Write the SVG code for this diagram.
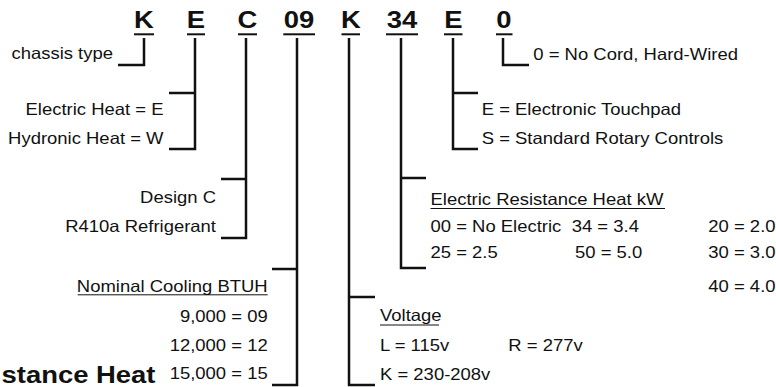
<svg xmlns="http://www.w3.org/2000/svg" width="776" height="387" viewBox="0 0 776 387">
<style>
text{font-family:"Liberation Sans",Arial,sans-serif;fill:#111}
.code{font-size:24.5px;font-weight:bold;text-anchor:middle}
.lbl{font-size:16.5px}
.end{text-anchor:end}
.big{font-size:24.5px;font-weight:bold}
.ul{stroke:#111;stroke-width:2}
.ul1{stroke:#111;stroke-width:1}
.con path{fill:none;stroke:#111;stroke-width:2.5}
</style>
<rect width="776" height="387" fill="#fff"/>
<g id="codes">
<g id="code-K1"><text class="code" transform="translate(144,28.3) scale(1.12 1)">K</text><line class="ul" x1="134" y1="34.3" x2="154" y2="34.3"/></g>
<g id="code-E1"><text class="code" transform="translate(196,28.3) scale(1.12 1)">E</text><line class="ul" x1="187" y1="34.3" x2="205" y2="34.3"/></g>
<g id="code-C"><text class="code" transform="translate(247.5,28.3) scale(1.12 1)">C</text><line class="ul" x1="238" y1="34.3" x2="257" y2="34.3"/></g>
<g id="code-09"><text class="code" transform="translate(299,28.3) scale(1.12 1)">09</text><line class="ul" x1="283.3" y1="34.3" x2="315" y2="34.3"/></g>
<g id="code-K2"><text class="code" transform="translate(350.8,28.3) scale(1.12 1)">K</text><line class="ul" x1="341.5" y1="34.3" x2="360" y2="34.3"/></g>
<g id="code-34"><text class="code" transform="translate(402,28.3) scale(1.12 1)">34</text><line class="ul" x1="386" y1="34.3" x2="418" y2="34.3"/></g>
<g id="code-E2"><text class="code" transform="translate(453.3,28.3) scale(1.12 1)">E</text><line class="ul" x1="444" y1="34.3" x2="462.5" y2="34.3"/></g>
<g id="code-0"><text class="code" transform="translate(504,28.3) scale(1.12 1)">0</text><line class="ul" x1="496" y1="34.3" x2="512.5" y2="34.3"/></g>
</g>
<g class="con" id="connectors">
<path d="M118,65 H144 V38"/>
<path d="M195,38 V149 H169 M169,93 H195"/>
<path d="M246,38 V238 H221 M221,179 H246"/>
<path d="M297,38 V385 H272 M272,269 H297"/>
<path d="M349,38 V385 H375 M375,297 H349"/>
<path d="M401,38 V268 H426 M426,178 H401"/>
<path d="M453,38 V149 H478 M478,93 H453"/>
<path d="M503,38 V65 H529"/>
</g>
<g id="chassis">
<text class="lbl end" transform="translate(113,59.3) scale(1.12 1)">chassis type</text>
</g>
<g id="heat-type">
<text class="lbl end" transform="translate(163.5,115) scale(1.12 1)">Electric Heat = E</text>
<text class="lbl end" transform="translate(163.5,143.5) scale(1.12 1)">Hydronic Heat = W</text>
</g>
<g id="design">
<text class="lbl end" transform="translate(216,202.7) scale(1.12 1)">Design C</text>
<text class="lbl end" transform="translate(216,232.3) scale(1.12 1)">R410a Refrigerant</text>
</g>
<g id="cooling">
<text class="lbl end" transform="translate(267.7,291.7) scale(1.12 1)">Nominal Cooling BTUH</text>
<line class="ul1" x1="77.7" y1="294.8" x2="267.7" y2="294.8"/>
<text class="lbl end" transform="translate(267.7,321.7) scale(1.12 1)">9,000 = 09</text>
<text class="lbl end" transform="translate(267.7,350.7) scale(1.12 1)">12,000 = 12</text>
<text class="lbl end" transform="translate(267.7,378.5) scale(1.12 1)">15,000 = 15</text>
</g>
<g id="cut-title">
<text class="big" transform="translate(1.5,383) scale(1.12 1)">stance Heat</text>
</g>
<g id="voltage">
<text class="lbl" transform="translate(380,321.3) scale(1.12 1)">Voltage</text>
<line class="ul1" x1="380" y1="325" x2="439" y2="325"/>
<text class="lbl" transform="translate(380,351) scale(1.12 1)">L = 115v</text>
<text class="lbl" transform="translate(508.3,351) scale(1.12 1)">R = 277v</text>
<text class="lbl" transform="translate(380,379.5) scale(1.12 1)">K = 230-208v</text>
</g>
<g id="heat-kw">
<text class="lbl" transform="translate(430.5,205) scale(1.12 1)">Electric Resistance Heat kW</text>
<line class="ul1" x1="430.5" y1="208.5" x2="665" y2="208.5"/>
<text class="lbl" transform="translate(430.5,231.5) scale(1.12 1)">00 = No Electric</text>
<text class="lbl" transform="translate(571.7,231.5) scale(1.12 1)">34 = 3.4</text>
<text class="lbl" transform="translate(708.3,231.5) scale(1.12 1)">20 = 2.0</text>
<text class="lbl" transform="translate(430.5,258) scale(1.12 1)">25 = 2.5</text>
<text class="lbl" transform="translate(575,258) scale(1.12 1)">50 = 5.0</text>
<text class="lbl" transform="translate(708.3,258) scale(1.12 1)">30 = 3.0</text>
<text class="lbl" transform="translate(708.3,291.5) scale(1.12 1)">40 = 4.0</text>
</g>
<g id="controls">
<text class="lbl" transform="translate(481.7,115) scale(1.12 1)">E = Electronic Touchpad</text>
<text class="lbl" transform="translate(481.7,144) scale(1.12 1)">S = Standard Rotary Controls</text>
</g>
<g id="cord">
<text class="lbl" transform="translate(533.3,60) scale(1.12 1)">0 = No Cord, Hard-Wired</text>
</g>
</svg>
